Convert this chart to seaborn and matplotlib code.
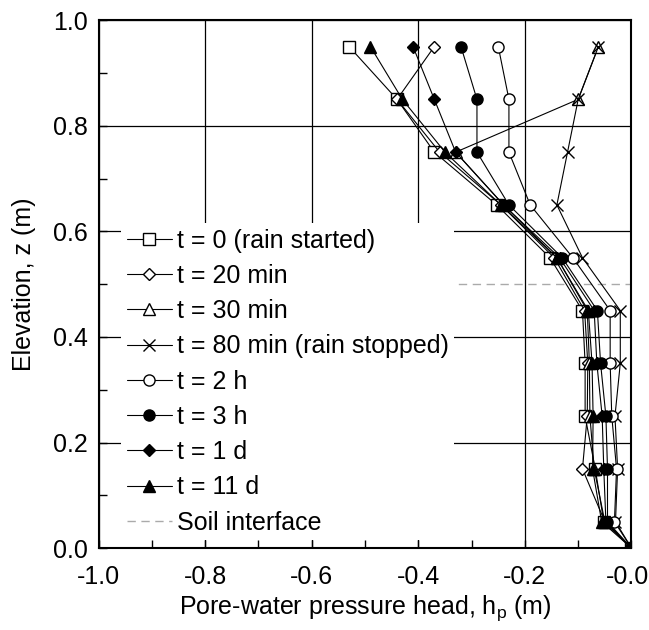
import matplotlib
matplotlib.use("Agg")
import matplotlib.pyplot as plt
import matplotlib.transforms as mtransforms
import seaborn as sns
import numpy as np
import pandas as pd

sns.set_style("white")
plt.rcParams['font.family'] = ['Liberation Sans', 'DejaVu Sans']
plt.rcParams['mathtext.fontset'] = 'custom'
plt.rcParams['mathtext.rm'] = 'Liberation Sans'
plt.rcParams['mathtext.it'] = 'Liberation Sans:italic'
plt.rcParams['text.color'] = 'black'
plt.rcParams['axes.labelcolor'] = 'black'
plt.rcParams['xtick.color'] = 'black'
plt.rcParams['ytick.color'] = 'black'

# Elevation levels (m)
elevation = [0.95, 0.85, 0.75, 0.65, 0.55, 0.45, 0.35, 0.25, 0.15, 0.05, 0.0]

# Pore-water pressure head (m) for each time
t_0      = [-0.53, -0.44, -0.37, -0.253, -0.153, -0.092, -0.087, -0.087, -0.068, -0.052, 0.0]
t_20min  = [-0.37, -0.44, -0.36, -0.245, -0.145, -0.088, -0.082, -0.083, -0.092, -0.050, 0.0]
t_30min  = [-0.062, -0.10, -0.33, -0.24, -0.14, -0.083, -0.079, -0.078, -0.070, -0.050, 0.0]
t_80min  = [-0.062, -0.10, -0.12, -0.14, -0.092, -0.021, -0.021, -0.031, -0.026, -0.030, 0.0]
t_2h     = [-0.25, -0.23, -0.23, -0.19, -0.11, -0.040, -0.040, -0.037, -0.028, -0.032, 0.0]
t_3h     = [-0.32, -0.29, -0.29, -0.23, -0.13, -0.064, -0.058, -0.048, -0.045, -0.045, 0.0]
t_1d     = [-0.41, -0.37, -0.33, -0.24, -0.135, -0.070, -0.065, -0.055, -0.052, -0.048, 0.0]
t_11d    = [-0.49, -0.43, -0.35, -0.245, -0.14, -0.081, -0.074, -0.072, -0.073, -0.056, 0.0]

labels = ["t = 0 (rain started)", "t = 20 min", "t = 30 min",
          "t = 80 min (rain stopped)", "t = 2 h", "t = 3 h", "t = 1 d", "t = 11 d"]
series = [t_0, t_20min, t_30min, t_80min, t_2h, t_3h, t_1d, t_11d]

# Soil interface line
interface_x = [-0.95, 0.0]
interface_z = [0.5, 0.5]

markers = ['s', 'D', '^', 'x', 'o', 'o', 'D', '^']
faces = ['white', 'white', 'white', 'black', 'white', 'black', 'black', 'black']
msizes = [8, 6.5, 8.5, 9, 8, 8, 6.5, 8.5]

fig = plt.figure(figsize=(6.49, 6.30), dpi=100)
ax = fig.add_axes([0.152, 0.130, 0.821, 0.838])

ax.grid(True, which='major', color='black', linewidth=0.9, zorder=0)

for lab, vals, m, fc, ms in zip(labels, series, markers, faces, msizes):
    df = pd.DataFrame({'h': vals, 'z': elevation})
    sns.lineplot(data=df, x='h', y='z', sort=False, estimator=None, ax=ax,
                 color='black', linewidth=0.8, marker=m, markersize=ms,
                 markerfacecolor=fc, markeredgecolor='black',
                 markeredgewidth=1.0, label=lab, zorder=3)

df_int = pd.DataFrame({'h': interface_x, 'z': interface_z})
sns.lineplot(data=df_int, x='h', y='z', sort=False, estimator=None, ax=ax,
             color='#aaaaaa', linestyle=(0, (6, 4)), linewidth=1.0,
             label='Soil interface', zorder=2)

ax.set_xlim(-1.0, 0.0)
ax.set_ylim(0.0, 1.0)
ax.set_xticks(np.arange(-1.0, 0.01, 0.2))
ax.set_yticks(np.arange(0.0, 1.01, 0.2))
ax.set_xticks(np.arange(-0.9, 0.0, 0.2), minor=True)
ax.set_yticks(np.arange(0.1, 1.0, 0.2), minor=True)
ax.xaxis.set_major_formatter(matplotlib.ticker.FormatStrFormatter('%.1f'))
ax.yaxis.set_major_formatter(matplotlib.ticker.FormatStrFormatter('%.1f'))
ax.tick_params(which='both', direction='in', length=6, width=1, color='black',
               labelcolor='black', labelsize=18, bottom=True, left=True)
ax.tick_params(axis='x', pad=12)
ax.tick_params(axis='y', pad=8)

for s in ax.spines.values():
    s.set_color('black')
    s.set_linewidth(1.5)

ax.set_xlabel("Pore-water pressure head, h$_\\mathrm{p}$ (m)", fontsize=18,
              labelpad=3, color='black')
ax.set_ylabel("Elevation, z (m)", fontsize=18, labelpad=12, color='black')

# nudge the right-most x tick label so it stays inside the figure
fig.canvas.draw()
last = ax.get_xticklabels()[-1]
last.set_transform(last.get_transform() +
                   mtransforms.ScaledTranslation(-3 / 72, 0, fig.dpi_scale_trans))

leg = ax.legend(loc='lower left', bbox_to_anchor=(0.042, 0.015), borderaxespad=0,
                frameon=True, fontsize=18, handlelength=1.8, handletextpad=0.2,
                labelspacing=0.45, borderpad=0.22)
leg.get_frame().set_facecolor('white')
leg.get_frame().set_edgecolor('none')
leg.get_frame().set_alpha(1.0)
for t in leg.get_texts():
    t.set_color('black')

fig.savefig("out.png", dpi=100)
